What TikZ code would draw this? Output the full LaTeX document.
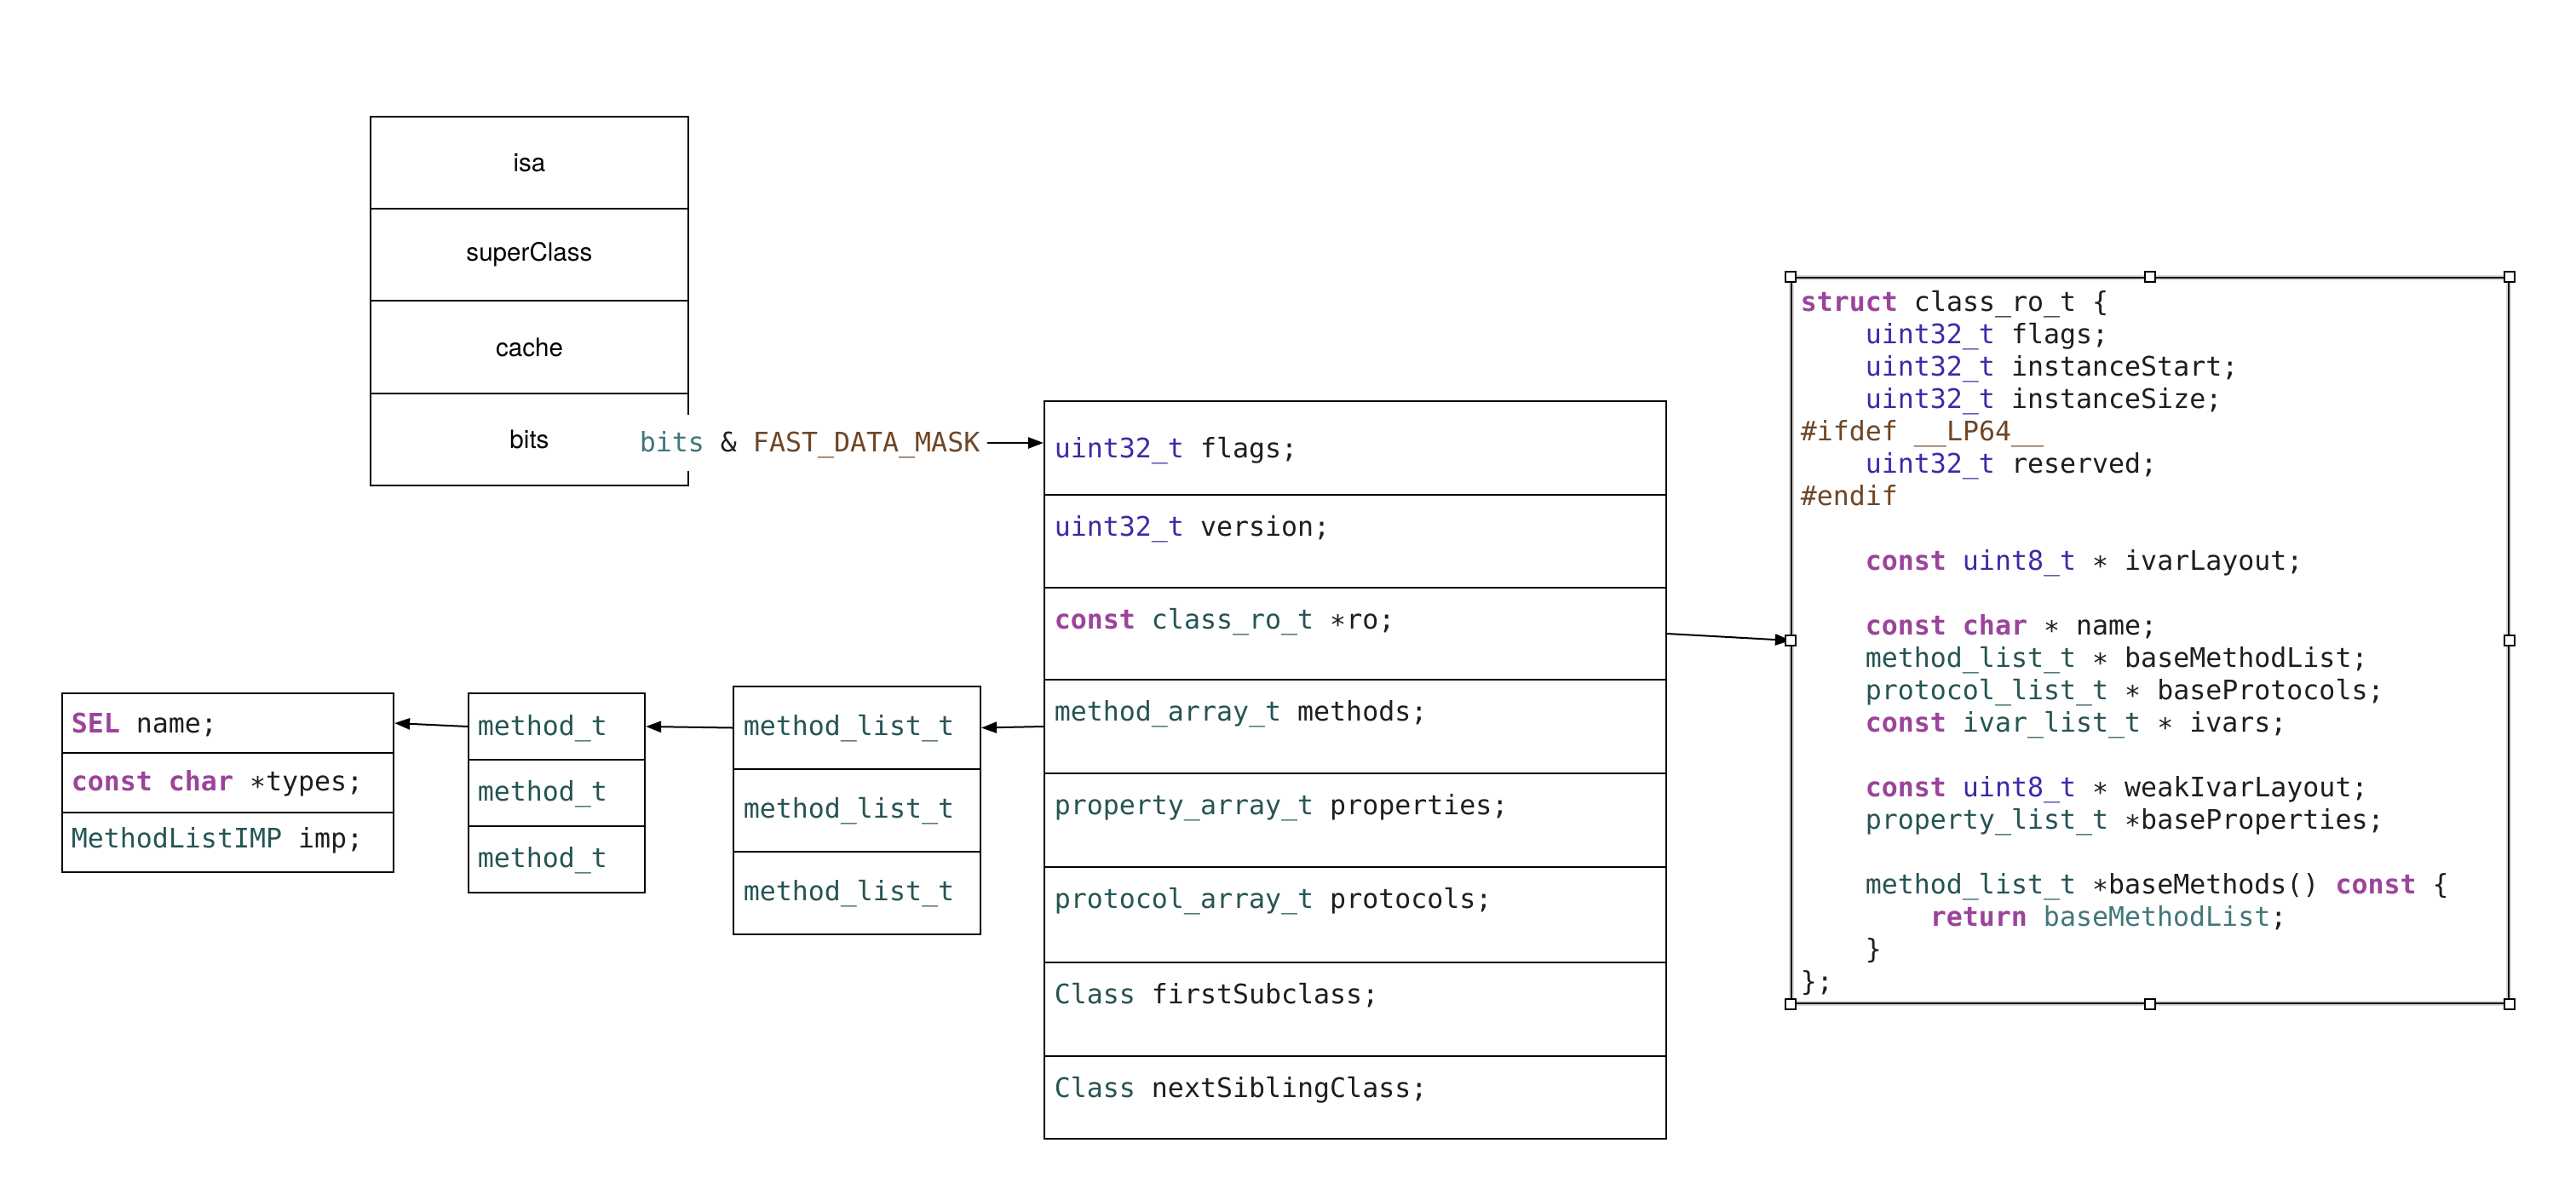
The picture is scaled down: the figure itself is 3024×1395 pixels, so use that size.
\documentclass[tikz,border=0pt]{standalone}
\usepackage{fontspec}
\setmainfont{TeX Gyre Heros}
\newfontfamily\codefont{DejaVu Sans Mono}
\usetikzlibrary{arrows.meta,fit}
\definecolor{kwcol}{RGB}{155,68,155}
\definecolor{typcol}{RGB}{60,42,168}
\definecolor{teacol}{RGB}{38,84,84}
\definecolor{lteacol}{RGB}{66,118,122}
\definecolor{brncol}{RGB}{110,70,38}
\definecolor{txtcol}{RGB}{30,30,30}
\newcommand\kwd[1]{{\bfseries\color{kwcol}#1}}
\newcommand\typ[1]{{\color{typcol}#1}}
\newcommand\tea[1]{{\color{teacol}#1}}
\newcommand\ltea[1]{{\color{lteacol}#1}}
\newcommand\brn[1]{{\color{brncol}#1}}
\newcommand\cast{\char"2217}
\begin{document}
\begin{tikzpicture}[x=0.25pt,y=-0.25pt,
  cell/.style={draw=black, line width=0.55pt, inner sep=0pt},
  lbl/.style={font=\fontsize{7.4pt}{9pt}\selectfont, text=black, inner sep=0pt, anchor=center},
  code/.style={anchor=base west, inner sep=0pt, text=txtcol,
    font=\codefont\fontsize{7.9pt}{9.5pt}\selectfont},
  arr/.style={line width=0.5pt, -{Triangle[length=4.5pt,width=3.3pt]}},
  handle/.style={draw=black, fill=white, line width=0.4pt, minimum size=3pt, inner sep=0pt}]
\useasboundingbox (0,0) rectangle (3024,1395);

% objc_class box
\node[cell, fit={(435,137) (808,245)}] (c1) {};
\node[cell, fit={(435,245) (808,353)}] (c2) {};
\node[cell, fit={(435,353) (808,462)}] (c3) {};
\node[cell, fit={(435,462) (808,570)}] (c4) {};
\node[lbl] (c1t) at (c1.center) {isa};
\node[lbl] (c2t) at (c2.center) {superClass};
\node[lbl] (c3t) at (c3.center) {cache};
\node[lbl] (c4t) at (c4.center) {bits};

% label
\node[code, anchor=west, fill=white, inner xsep=2pt, inner ysep=3.2pt,
      text height=0.75em, text depth=0.25em] (bl) at (742,520)
  {\ltea{bits} \& \brn{FAST\_DATA\_MASK}};

% class_rw_t box
\node[cell, fit={(1226,471) (1956,581)}] (f1) {};
\node[cell, fit={(1226,581) (1956,690)}] (f2) {};
\node[cell, fit={(1226,690) (1956,798)}] (f3) {};
\node[cell, fit={(1226,798) (1956,908)}] (f4) {};
\node[cell, fit={(1226,908) (1956,1018)}] (f5) {};
\node[cell, fit={(1226,1018) (1956,1130)}] (f6) {};
\node[cell, fit={(1226,1130) (1956,1240)}] (f7) {};
\node[cell, fit={(1226,1240) (1956,1337)}] (f8) {};
\node[code] (f1t) at (1237,537) {\typ{uint32\_t} flags;};
\node[code] (f2t) at (1237,629) {\typ{uint32\_t} version;};
\node[code] (f3t) at (1237,738) {\kwd{const} \tea{class\_ro\_t} \cast ro;};
\node[code] (f4t) at (1237,846) {\tea{method\_array\_t} methods;};
\node[code] (f5t) at (1237,956) {\tea{property\_array\_t} properties;};
\node[code] (f6t) at (1237,1066) {\tea{protocol\_array\_t} protocols;};
\node[code] (f7t) at (1237,1178) {\tea{Class} firstSubclass;};
\node[code] (f8t) at (1237,1288) {\tea{Class} nextSiblingClass;};

% method_list_t box
\node[cell, fit={(861,806) (1151,903)}] (ml1) {};
\node[cell, fit={(861,903) (1151,1000)}] (ml2) {};
\node[cell, fit={(861,1000) (1151,1097)}] (ml3) {};
\node[code] (ml1t) at (872,863) {\tea{method\_list\_t}};
\node[code] (ml2t) at (872,960) {\tea{method\_list\_t}};
\node[code] (ml3t) at (872,1057) {\tea{method\_list\_t}};

% method_t box
\node[cell, fit={(550,814) (757,892)}] (mt1) {};
\node[cell, fit={(550,892) (757,970)}] (mt2) {};
\node[cell, fit={(550,970) (757,1048)}] (mt3) {};
\node[code] (mt1t) at (560,863) {\tea{method\_t}};
\node[code] (mt2t) at (560,940) {\tea{method\_t}};
\node[code] (mt3t) at (560,1018) {\tea{method\_t}};

% method struct box
\node[cell, fit={(73,814) (462,884)}] (sel1) {};
\node[cell, fit={(73,884) (462,954)}] (sel2) {};
\node[cell, fit={(73,954) (462,1024)}] (sel3) {};
\node[code] (sel1t) at (83,860) {\kwd{SEL} name;};
\node[code] (sel2t) at (83,928) {\kwd{const char} \cast types;};
\node[code] (sel3t) at (83,995) {\tea{MethodListIMP} imp;};

% class_ro_t code box
\node[cell, preaction={draw=gray!30, line width=1.4pt}, fit={(2103,326) (2945,1178)}] (rob) {};
\node[code] (r1) at (2113,365) {\kwd{struct} class\_ro\_t \{};
\node[code] (r2) at (2189,403) {\typ{uint32\_t} flags;};
\node[code] (r3) at (2189,441) {\typ{uint32\_t} instanceStart;};
\node[code] (r4) at (2189,479) {\typ{uint32\_t} instanceSize;};
\node[code] (r5) at (2113,517) {\brn{\#ifdef \_\_LP64\_\_}};
\node[code] (r6) at (2189,555) {\typ{uint32\_t} reserved;};
\node[code] (r7) at (2113,593) {\brn{\#endif}};
\node[code] (r9) at (2189,669) {\kwd{const} \typ{uint8\_t} \cast{} ivarLayout;};
\node[code] (r11) at (2189,745) {\kwd{const char} \cast{} name;};
\node[code] (r12) at (2189,783) {\tea{method\_list\_t} \cast{} baseMethodList;};
\node[code] (r13) at (2189,821) {\tea{protocol\_list\_t} \cast{} baseProtocols;};
\node[code] (r14) at (2189,859) {\kwd{const} \tea{ivar\_list\_t} \cast{} ivars;};
\node[code] (r16) at (2189,935) {\kwd{const} \typ{uint8\_t} \cast{} weakIvarLayout;};
\node[code] (r17) at (2189,973) {\tea{property\_list\_t} \cast baseProperties;};
\node[code] (r19) at (2189,1049) {\tea{method\_list\_t} \cast baseMethods() \kwd{const} \{};
\node[code] (r20) at (2265,1087) {\kwd{return} \ltea{baseMethodList};};
\node[code] (r21) at (2189,1125) {\}};
\node[code] (r22) at (2113,1163) {\};};

% connectors
\draw[arr] (bl.east) -- (bl.east -| f1.west);
\draw[arr] (f3.east) -- (rob.west);
\draw[arr] (f4.west) -- (ml1.east);
\draw[arr] (ml1.west) -- (mt1.east);
\draw[arr] (mt1.west) -- (sel1.east);

% selection handles
\foreach \a [count=\i] in {north west, north, north east, west, east, south west, south, south east}
  \node[handle] (h\i) at (rob.\a) {};
\end{tikzpicture}
\end{document}
